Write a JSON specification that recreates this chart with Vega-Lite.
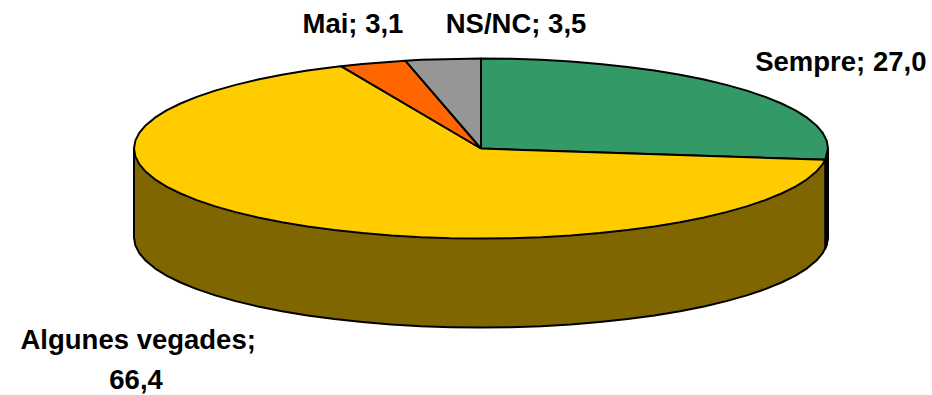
{"$schema":"https://vega.github.io/schema/vega-lite/v6.json","width":932,"height":395,"padding":0,"autosize":{"type":"none"},"background":"white","view":{"stroke":null},"datasets":{"pie":[
{"s":"wall","i":0,"u":-1,"v":0},{"s":"wall","i":1,"u":-1,"v":-0.989},{"s":"wall","i":2,"u":-0.9848,"v":-1.163},{"s":"wall","i":3,"u":-0.9397,"v":-1.331},{"s":"wall","i":4,"u":-0.866,"v":-1.489},{"s":"wall","i":5,"u":-0.766,"v":-1.632},{"s":"wall","i":6,"u":-0.6428,"v":-1.755},{"s":"wall","i":7,"u":-0.5,"v":-1.855},{"s":"wall","i":8,"u":-0.342,"v":-1.928},{"s":"wall","i":9,"u":-0.1736,"v":-1.974},{"s":"wall","i":10,"u":0,"v":-1.989},{"s":"wall","i":11,"u":0.1736,"v":-1.974},{"s":"wall","i":12,"u":0.342,"v":-1.928},{"s":"wall","i":13,"u":0.5,"v":-1.855},{"s":"wall","i":14,"u":0.6428,"v":-1.755},{"s":"wall","i":15,"u":0.766,"v":-1.632},{"s":"wall","i":16,"u":0.866,"v":-1.489},{"s":"wall","i":17,"u":0.9397,"v":-1.331},{"s":"wall","i":18,"u":0.9848,"v":-1.163},{"s":"wall","i":19,"u":1,"v":-0.989},{"s":"wall","i":20,"u":1,"v":0},{"s":"wall","i":21,"u":-1,"v":0},
{"s":"wall","i":1.5,"u":-0.9962,"v":-1.076},{"s":"wall","i":2.5,"u":-0.9659,"v":-1.248},{"s":"wall","i":3.5,"u":-0.9063,"v":-1.412},{"s":"wall","i":4.5,"u":-0.8192,"v":-1.563},{"s":"wall","i":5.5,"u":-0.7071,"v":-1.696},{"s":"wall","i":6.5,"u":-0.5736,"v":-1.808},{"s":"wall","i":7.5,"u":-0.4226,"v":-1.895},{"s":"wall","i":8.5,"u":-0.2588,"v":-1.955},{"s":"wall","i":9.5,"u":-0.0872,"v":-1.985},{"s":"wall","i":10.5,"u":0.0872,"v":-1.985},{"s":"wall","i":11.5,"u":0.2588,"v":-1.955},{"s":"wall","i":12.5,"u":0.4226,"v":-1.895},{"s":"wall","i":13.5,"u":0.5736,"v":-1.808},{"s":"wall","i":14.5,"u":0.7071,"v":-1.696},{"s":"wall","i":15.5,"u":0.8192,"v":-1.563},{"s":"wall","i":16.5,"u":0.9063,"v":-1.412},{"s":"wall","i":17.5,"u":0.9659,"v":-1.248},{"s":"wall","i":18.5,"u":0.9962,"v":-1.076},
{"s":"edge","i":0,"u":0.992,"v":-0.125},{"s":"edge","i":1,"u":1,"v":0},{"s":"edge","i":2,"u":1,"v":-0.989},{"s":"edge","i":3,"u":0.992,"v":-1.114},{"s":"edge","i":4,"u":0.992,"v":-0.125},
{"s":"Sempre","i":0,"u":0,"v":0},{"s":"Sempre","i":1,"u":0,"v":1},{"s":"Sempre","i":2,"u":0.1736,"v":0.9848},{"s":"Sempre","i":3,"u":0.342,"v":0.9397},{"s":"Sempre","i":4,"u":0.5,"v":0.866},{"s":"Sempre","i":5,"u":0.6428,"v":0.766},{"s":"Sempre","i":6,"u":0.766,"v":0.6428},{"s":"Sempre","i":7,"u":0.866,"v":0.5},{"s":"Sempre","i":8,"u":0.9397,"v":0.342},{"s":"Sempre","i":9,"u":0.9848,"v":0.1736},{"s":"Sempre","i":10,"u":1,"v":0},{"s":"Sempre","i":11,"u":0.9921,"v":-0.1253},{"s":"Sempre","i":12,"u":0,"v":0},
{"s":"Sempre","i":1.5,"u":0.0872,"v":0.9962},{"s":"Sempre","i":2.5,"u":0.2588,"v":0.9659},{"s":"Sempre","i":3.5,"u":0.4226,"v":0.9063},{"s":"Sempre","i":4.5,"u":0.5736,"v":0.8192},{"s":"Sempre","i":5.5,"u":0.7071,"v":0.7071},{"s":"Sempre","i":6.5,"u":0.8192,"v":0.5736},{"s":"Sempre","i":7.5,"u":0.9063,"v":0.4226},{"s":"Sempre","i":8.5,"u":0.9659,"v":0.2588},{"s":"Sempre","i":9.5,"u":0.9962,"v":0.0872},
{"s":"Algunes","i":0,"u":0,"v":0},{"s":"Algunes","i":1,"u":0.9921,"v":-0.1253},{"s":"Algunes","i":2,"u":0.9848,"v":-0.1736},{"s":"Algunes","i":3,"u":0.9397,"v":-0.342},{"s":"Algunes","i":4,"u":0.866,"v":-0.5},{"s":"Algunes","i":5,"u":0.766,"v":-0.6428},{"s":"Algunes","i":6,"u":0.6428,"v":-0.766},{"s":"Algunes","i":7,"u":0.5,"v":-0.866},{"s":"Algunes","i":8,"u":0.342,"v":-0.9397},{"s":"Algunes","i":9,"u":0.1736,"v":-0.9848},{"s":"Algunes","i":10,"u":0,"v":-1},{"s":"Algunes","i":11,"u":-0.1736,"v":-0.9848},{"s":"Algunes","i":12,"u":-0.342,"v":-0.9397},{"s":"Algunes","i":13,"u":-0.5,"v":-0.866},{"s":"Algunes","i":14,"u":-0.6428,"v":-0.766},{"s":"Algunes","i":15,"u":-0.766,"v":-0.6428},{"s":"Algunes","i":16,"u":-0.866,"v":-0.5},{"s":"Algunes","i":17,"u":-0.9397,"v":-0.342},{"s":"Algunes","i":18,"u":-0.9848,"v":-0.1736},{"s":"Algunes","i":19,"u":-1,"v":0},{"s":"Algunes","i":20,"u":-0.9848,"v":0.1736},{"s":"Algunes","i":21,"u":-0.9397,"v":0.342},{"s":"Algunes","i":22,"u":-0.866,"v":0.5},{"s":"Algunes","i":23,"u":-0.766,"v":0.6428},{"s":"Algunes","i":24,"u":-0.6428,"v":0.766},{"s":"Algunes","i":25,"u":-0.5,"v":0.866},{"s":"Algunes","i":26,"u":-0.4035,"v":0.915},{"s":"Algunes","i":27,"u":0,"v":0},
{"s":"Algunes","i":2.5,"u":0.9659,"v":-0.2588},{"s":"Algunes","i":3.5,"u":0.9063,"v":-0.4226},{"s":"Algunes","i":4.5,"u":0.8192,"v":-0.5736},{"s":"Algunes","i":5.5,"u":0.7071,"v":-0.7071},{"s":"Algunes","i":6.5,"u":0.5736,"v":-0.8192},{"s":"Algunes","i":7.5,"u":0.4226,"v":-0.9063},{"s":"Algunes","i":8.5,"u":0.2588,"v":-0.9659},{"s":"Algunes","i":9.5,"u":0.0872,"v":-0.9962},{"s":"Algunes","i":10.5,"u":-0.0872,"v":-0.9962},{"s":"Algunes","i":11.5,"u":-0.2588,"v":-0.9659},{"s":"Algunes","i":12.5,"u":-0.4226,"v":-0.9063},{"s":"Algunes","i":13.5,"u":-0.5736,"v":-0.8192},{"s":"Algunes","i":14.5,"u":-0.7071,"v":-0.7071},{"s":"Algunes","i":15.5,"u":-0.8192,"v":-0.5736},{"s":"Algunes","i":16.5,"u":-0.9063,"v":-0.4226},{"s":"Algunes","i":17.5,"u":-0.9659,"v":-0.2588},{"s":"Algunes","i":18.5,"u":-0.9962,"v":-0.0872},{"s":"Algunes","i":19.5,"u":-0.9962,"v":0.0872},{"s":"Algunes","i":20.5,"u":-0.9659,"v":0.2588},{"s":"Algunes","i":21.5,"u":-0.9063,"v":0.4226},{"s":"Algunes","i":22.5,"u":-0.8192,"v":0.5736},{"s":"Algunes","i":23.5,"u":-0.7071,"v":0.7071},{"s":"Algunes","i":24.5,"u":-0.5736,"v":0.8192},{"s":"Algunes","i":25.8,"u":-0.4226,"v":0.9063},
{"s":"Mai","i":0,"u":0,"v":0},{"s":"Mai","i":1,"u":-0.4035,"v":0.915},{"s":"Mai","i":2,"u":-0.342,"v":0.9397},{"s":"Mai","i":3,"u":-0.2181,"v":0.976},{"s":"Mai","i":4,"u":0,"v":0},
{"s":"NS/NC","i":0,"u":0,"v":0},{"s":"NS/NC","i":1,"u":-0.2181,"v":0.976},{"s":"NS/NC","i":2,"u":-0.1736,"v":0.9848},{"s":"NS/NC","i":3,"u":0,"v":1},{"s":"NS/NC","i":4,"u":0,"v":0}
],"labels":[
{"t":"Mai; 3,1","u":-0.369,"v":1.372},{"t":"NS/NC; 3,5","u":0.101,"v":1.372},{"t":"Sempre; 27,0","u":1.037,"v":0.95},{"t":"Algunes vegades;","u":-0.988,"v":-2.139},{"t":"66,4","u":-0.994,"v":-2.583}
]},
"layer":[
{"data":{"name":"pie"},"mark":{"type":"line","stroke":"black","strokeWidth":2,"strokeJoin":"round","clip":false},
"encoding":{"x":{"field":"u","type":"quantitative","scale":{"domain":[-1.3862,1.2997],"nice":false,"zero":false},"axis":null},
"y":{"field":"v","type":"quantitative","scale":{"domain":[-2.7389,1.65],"nice":false,"zero":false},"axis":null},
"order":{"field":"i","type":"quantitative"},
"detail":{"field":"s"},
"fill":{"field":"s","type":"nominal","legend":null,"sort":null,"scale":{"domain":["wall","edge","Sempre","Algunes","Mai","NS/NC"],"range":["#806600","#000000","#339966","#FFCC00","#FF6600","#969696"]}}}},
{"data":{"name":"labels"},"mark":{"type":"text","font":"Liberation Sans","fontWeight":"bold","fontSize":27.5,"color":"black","align":"center","baseline":"middle"},
"encoding":{"x":{"field":"u","type":"quantitative"},"y":{"field":"v","type":"quantitative"},"text":{"field":"t"}}}
]}
